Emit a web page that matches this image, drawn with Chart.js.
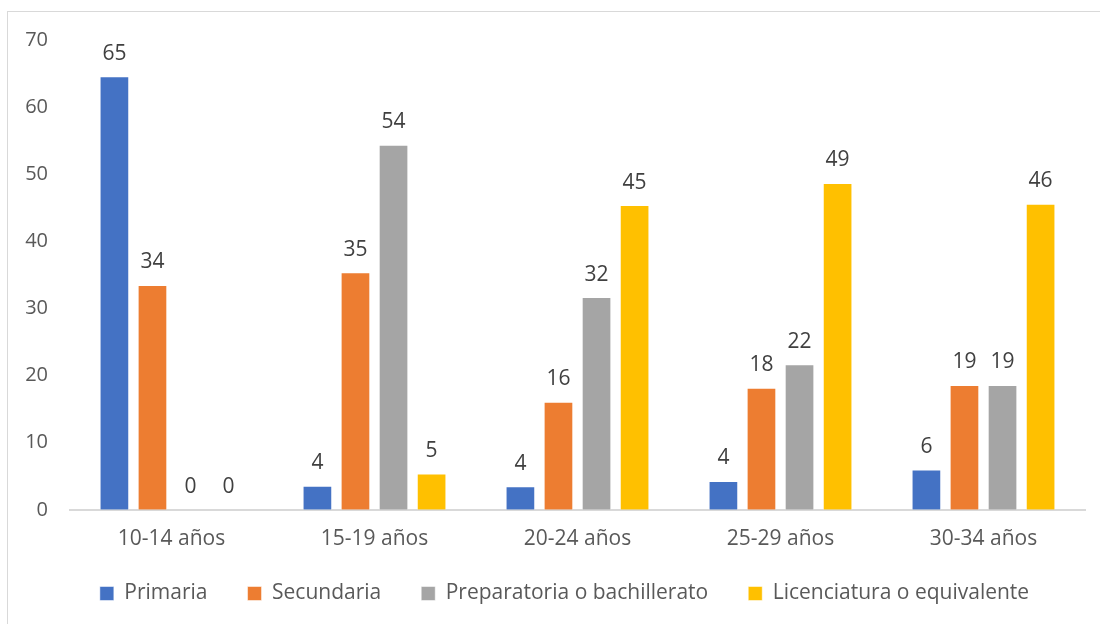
<!DOCTYPE html>
<html>
<head>
<meta charset="utf-8">
<script src="https://cdn.jsdelivr.net/npm/chart.js@4"></script>
<style>
  html, body { margin: 0; padding: 0; background: #fff; }
  #wrap { position: absolute; left: 0; top: 0; width: 1100px; height: 624px; }
  #frame { position: absolute; left: 7px; top: 11px; width: 1100px; height: 620px; border: 1px solid #d9d9d9; box-sizing: border-box; }
</style>
</head>
<body>
<div id="wrap">
  <div id="frame"></div>
  <canvas id="chart" width="1100" height="624"></canvas>
</div>
<script>
// Data
const categories = ['10-14 años', '15-19 años', '20-24 años', '25-29 años', '30-34 años'];
const primaria = [64.6, 3.6, 3.5, 4.3, 6.0];
const secundaria = [33.5, 35.4, 16.1, 18.2, 18.6];
const preparatoria = [0, 54.4, 31.7, 21.7, 18.6];
const licenciatura = [0, 5.4, 45.4, 48.7, 45.6];
const yTicks = [0, 10, 20, 30, 40, 50, 60, 70];

const fontFamily = '"Open Sans", "Noto Sans", sans-serif';
const legendTrim = 9;

// Value labels above bars + small legend tweaks
const barLabels = {
    id: 'barLabels',
    beforeLayout(chart) {
        const lg = chart.legend;
        if (lg && !lg._trimmed) {
            const fit = lg.fit;
            lg.fit = function() {
                fit.call(this);
                this.height -= legendTrim;
            };
            lg._trimmed = true;
        }
    },
    afterLayout(chart) {
        const lg = chart.legend;
        lg.top -= legendTrim;
        lg.bottom -= legendTrim;
        lg.left += 18;
        lg.right += 18;
    },
    afterDatasetsDraw(chart) {
        const ctx = chart.ctx;
        ctx.save();
        ctx.font = '21px ' + fontFamily;
        ctx.fillStyle = '#404040';
        ctx.textAlign = 'center';
        ctx.textBaseline = 'bottom';
        chart.data.datasets.forEach((ds, i) => {
            chart.getDatasetMeta(i).data.forEach((bar, j) => {
                ctx.fillText(Math.round(ds.data[j]), bar.x, bar.y - 12);
            });
        });
        ctx.restore();
    }
};

const ctx = document.getElementById('chart').getContext('2d');
new Chart(ctx, {
    type: 'bar',
    data: {
        labels: categories,
        datasets: [
            { label: 'Primaria', data: primaria, backgroundColor: '#4472c4' },
            { label: 'Secundaria', data: secundaria, backgroundColor: '#ed7d31' },
            { label: 'Preparatoria o bachillerato', data: preparatoria, backgroundColor: '#a5a5a5' },
            { label: 'Licenciatura o equivalente', data: licenciatura, backgroundColor: '#ffc000' }
        ]
    },
    options: {
        responsive: false,
        animation: false,
        datasets: {
            bar: {
                categoryPercentage: 0.75,
                barPercentage: 0.78,
                borderColor: 'rgba(255,255,255,0.5)',
                borderWidth: 1
            }
        },
        layout: {
            padding: { left: 8, right: 15, top: 40, bottom: 10 }
        },
        plugins: {
            legend: {
                position: 'bottom',
                labels: {
                    boxWidth: 14,
                    boxHeight: 14,
                    padding: 40,
                    color: '#595959',
                    font: { family: fontFamily, size: 21 }
                }
            },
            tooltip: { enabled: false }
        },
        scales: {
            y: {
                min: 0,
                max: 70,
                afterFit(scale) { scale.width = 62; },
                afterBuildTicks(scale) { scale.ticks = yTicks.map(v => ({ value: v })); },
                grid: { display: false, drawTicks: false },
                border: { display: false },
                ticks: {
                    padding: 22,
                    color: '#595959',
                    font: { family: fontFamily, size: 20 }
                }
            },
            x: {
                afterFit(scale) { scale.height -= 17; },
                grid: { display: false, drawTicks: false },
                border: { display: true, color: '#d9d9d9', width: 2 },
                ticks: {
                    padding: 17,
                    color: '#595959',
                    font: { family: fontFamily, size: 21 }
                }
            }
        }
    },
    plugins: [barLabels]
});
</script>
</body>
</html>
